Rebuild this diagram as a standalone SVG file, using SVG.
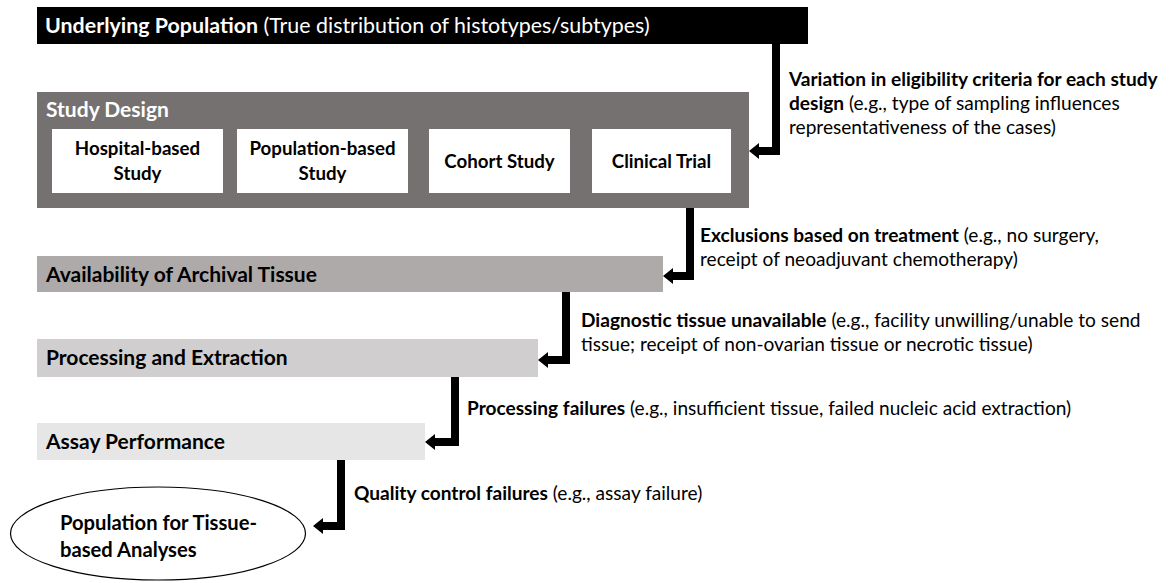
<svg xmlns="http://www.w3.org/2000/svg" width="1172" height="583" viewBox="0 0 1172 583">
<style>
text{font-family:Lato,"Liberation Sans",sans-serif;fill:#000}
.b{font-weight:bold}
.r{font-weight:normal}
.t{font-size:21px}
.tt{font-size:21.4px}
.in{font-size:18.7px;font-weight:bold;text-anchor:middle}
.an{font-size:19.1px}
.el{font-size:20.2px;font-weight:bold}
.w{fill:#fff}
.conn{fill:none;stroke:#000;stroke-width:8;stroke-linejoin:miter}
</style>
<defs>
<marker id="ah" markerUnits="userSpaceOnUse" markerWidth="10" markerHeight="16" viewBox="0 0 10 16" refX="0" refY="8" orient="auto">
<path d="M0,0 L10,8 L0,16 z" fill="#000"/>
</marker>
</defs>
<rect width="1172" height="583" fill="#fff"/>

<g id="underlying-population">
<rect x="37" y="7" width="771" height="37" fill="#000"/>
<text x="45" y="33" class="tt w"><tspan class="b">Underlying Population</tspan><tspan class="r"> (True distribution of histotypes/subtypes)</tspan></text>
</g>

<g id="study-design">
<rect x="37" y="92" width="712" height="116" fill="#767171"/>
<text x="46" y="117" class="t b w">Study Design</text>
</g>
<g id="hospital-based">
<rect x="52" y="129" width="171" height="64" fill="#fff"/>
<text x="137.5" y="155" class="in">Hospital-based</text>
<text x="137.5" y="180" class="in">Study</text>
</g>
<g id="population-based">
<rect x="237" y="129" width="171" height="64" fill="#fff"/>
<text x="322.5" y="155" class="in">Population-based</text>
<text x="322.5" y="180" class="in">Study</text>
</g>
<g id="cohort-study">
<rect x="429" y="129" width="141" height="64" fill="#fff"/>
<text x="499.5" y="168" class="in">Cohort Study</text>
</g>
<g id="clinical-trial">
<rect x="592" y="129" width="139" height="64" fill="#fff"/>
<text x="661.5" y="168" class="in">Clinical Trial</text>
</g>

<g id="archival-tissue">
<rect x="37" y="256" width="626" height="36" fill="#AEAAAA"/>
<text x="46" y="282" class="t b">Availability of Archival Tissue</text>
</g>
<g id="processing-extraction">
<rect x="37" y="339" width="501" height="38" fill="#D0CECE"/>
<text x="46" y="365" class="t b">Processing and Extraction</text>
</g>
<g id="assay-performance">
<rect x="37" y="423" width="388" height="37" fill="#E7E6E6"/>
<text x="46" y="449" class="t b">Assay Performance</text>
</g>
<g id="tissue-population">
<ellipse cx="158" cy="533.5" rx="147.5" ry="46.5" fill="#fff" stroke="#000" stroke-width="1.2"/>
<text x="60" y="530" class="el">Population for Tissue-</text>
<text x="60" y="557" class="el">based Analyses</text>
</g>

<g id="connectors">
<path class="conn" d="M776,44 V151 H759" marker-end="url(#ah)"/>
<path class="conn" d="M690,208 V276 H673" marker-end="url(#ah)"/>
<path class="conn" d="M566,292 V360 H548" marker-end="url(#ah)"/>
<path class="conn" d="M455,377 V442 H435" marker-end="url(#ah)"/>
<path class="conn" d="M341,460 V526 H323" marker-end="url(#ah)"/>
</g>

<g id="labels">
<text x="789" y="86" class="an b">Variation in eligibility criteria for each study</text>
<text x="789" y="110" class="an"><tspan class="b">design</tspan> (e.g., type of sampling influences</text>
<text x="789" y="134" class="an">representativeness of the cases)</text>
<text x="700" y="242" class="an"><tspan class="b">Exclusions based on treatment</tspan> (e.g., no surgery,</text>
<text x="700" y="266" class="an">receipt of neoadjuvant chemotherapy)</text>
<text x="581" y="327" class="an"><tspan class="b">Diagnostic tissue unavailable</tspan> (e.g., facility unwilling/unable to send</text>
<text x="581" y="351" class="an">tissue; receipt of non-ovarian tissue or necrotic tissue)</text>
<text x="467" y="415" class="an"><tspan class="b">Processing failures</tspan> (e.g., insufficient tissue, failed nucleic acid extraction)</text>
<text x="354" y="500" class="an"><tspan class="b">Quality control failures</tspan> (e.g., assay failure)</text>
</g>
</svg>
